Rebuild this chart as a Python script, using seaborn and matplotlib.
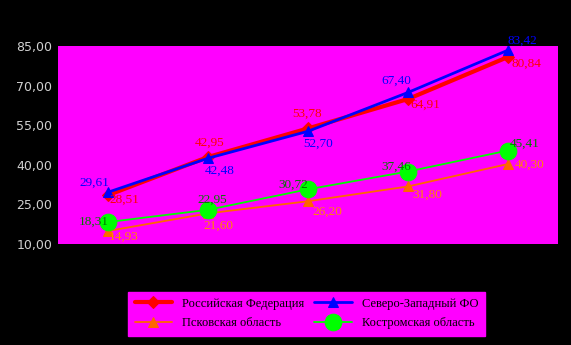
import matplotlib
matplotlib.use("Agg")
import matplotlib.pyplot as plt
import seaborn as sns
import pandas as pd
import numpy as np

periods = [0, 1, 2, 3, 4]
russia = [28.51, 42.95, 53.78, 64.91, 80.84]
nw_fo = [29.61, 42.48, 52.70, 67.40, 83.42]
pskov = [14.93, 21.60, 26.20, 31.80, 40.30]
kostroma = [18.31, 22.95, 30.72, 37.46, 45.41]
names = ["Российская Федерация", "Северо-Западный ФО", "Псковская область", "Костромская область"]
yticks = [10, 25, 40, 55, 70, 85]

series = [russia, nw_fo, pskov, kostroma]
df = pd.concat([pd.DataFrame({"x": periods, "y": s, "name": n}) for s, n in zip(series, names)])

styles = {
    names[0]: dict(color="#ff0000", lw=3.0, marker="D", ms=6, tc="#ff0000"),
    names[1]: dict(color="#0000ff", lw=2.0, marker="^", ms=7, tc="#0000ff"),
    names[2]: dict(color="#ff6600", lw=1.3, marker="^", ms=7, tc="#ff8800"),
    names[3]: dict(color="#00ff00", lw=1.3, marker="o", ms=12, tc="#007a00"),
}
offsets = {
    names[0]: [(16, -5), (2, 14), (-1, 15), (17, -6), (18, -7)],
    names[1]: [(-14, 9), (12, -12), (10, -12), (-12, 12), (14, 9)],
    names[2]: [(16, -6), (10, -12), (19, -11), (19, -8), (22, -1)],
    names[3]: [(-14, 0), (4, 10), (-15, 5), (-12, 5), (17, 7)],
}

sns.set_style("white")
plt.rcParams["font.family"] = ["DejaVu Sans"]
fig = plt.figure(figsize=(5.71, 3.45), dpi=100, facecolor="black")
ax = fig.add_axes([58/571, 1-244/345, 500/571, 198/345])
ax.set_facecolor("#ff00ff")

for n, s in zip(names, series):
    st = styles[n]
    sub = df[df["name"] == n]
    sns.lineplot(data=sub, x="x", y="y", ax=ax, color=st["color"], lw=st["lw"],
                 marker=st["marker"], markersize=st["ms"], markeredgecolor=st["color"],
                 label=n, legend=False)
    for xi, yi, (dx, dy) in zip(periods, s, offsets[n]):
        ax.annotate(f"{yi:.2f}".replace(".", ","), (xi, yi), xytext=(dx, dy),
                    textcoords="offset pixels", ha="center", va="center",
                    color=st["tc"], fontsize=9.5, family="Liberation Serif")

ax.set_xlim(-0.5, 4.5)
ax.set_ylim(10, 85)
ax.set_yticks(yticks)
ax.set_yticklabels([f"{v:.2f}".replace(".", ",") for v in yticks], color="#d0d0d0", fontsize=9)
ax.set_xticks([])
ax.set_xlabel("")
ax.set_ylabel("")
ax.tick_params(axis="y", length=0, pad=4)
for sp in ax.spines.values():
    sp.set_visible(False)

handles, labels = ax.get_legend_handles_labels()
order = [0, 2, 1, 3]
leg = fig.legend([handles[i] for i in order], [labels[i] for i in order], ncol=2,
                 loc="center", bbox_to_anchor=(306.5/571, 1-313.5/345),
                 facecolor="#ff00ff", edgecolor="#ff00ff", framealpha=1, fancybox=False,
                 prop={"family": "Liberation Serif", "size": 9}, handlelength=3,
                 columnspacing=0.8, borderpad=0.5, labelspacing=0.6)
for t in leg.get_texts():
    t.set_color("black")

fig.savefig("out.png", dpi=100, facecolor="black")
